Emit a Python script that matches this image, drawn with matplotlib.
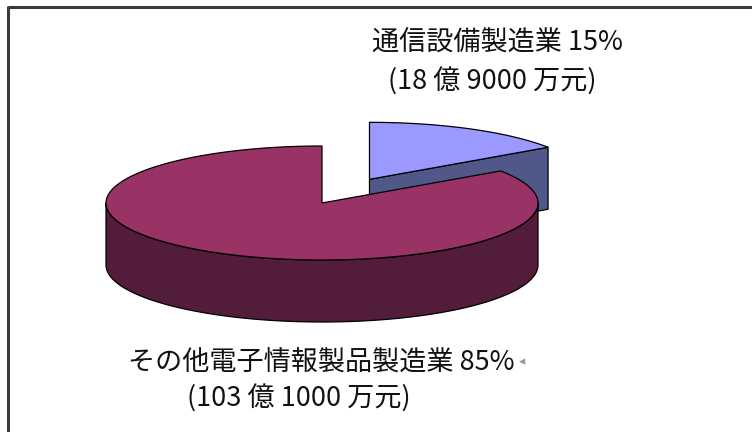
import matplotlib.pyplot as plt
import numpy as np
from matplotlib.patches import Polygon

plt.rcParams['font.family'] = ['Noto Sans CJK JP', 'DejaVu Sans']

# sales by segment, in 万元
names = ['通信設備製造業', 'その他電子情報製品製造業']
amount_man = [189000, 1031000]
explode = [0.47, 0.0]
top_colors = ['#9999ff', '#993366']
side_colors = ['#4f5888', '#521c3a']

# label placement (left x, first-line y, second-line x, second-line y)
label_pos = [(372, 42, 388, 82), (128, 362, 187, 399)]

# pie geometry in pixel coordinates
cx, cy = 322, 203
rx, ry = 216, 57
depth = 62


def pt(t, ox=0.0, oy=0.0, dz=0.0):
    r = np.radians(t)
    return np.column_stack([cx + ox + rx * np.cos(r), cy + oy - ry * np.sin(r) + dz])


fig = plt.figure(figsize=(7.52, 4.32), dpi=100)
ax = fig.add_axes([0, 0, 1, 1])
ax.set_xlim(0, 752)
ax.set_ylim(432, 0)
ax.axis('off')

total = sum(amount_man)
shares = np.array(amount_man) / total
cum = np.concatenate([[0], np.cumsum(shares)])

slices = []
for i in range(len(names)):
    # clockwise from 12 o'clock
    a1 = 90 - cum[i] * 360
    a0 = 90 - cum[i + 1] * 360
    mid = (a0 + a1) / 2
    ox = explode[i] * rx * np.cos(np.radians(mid))
    oy = -explode[i] * ry * np.sin(np.radians(mid))
    slices.append((np.sin(np.radians(mid)), i, a0, a1, ox, oy))

# far slices first
for _, i, a0, a1, ox, oy in sorted(slices, reverse=True):
    apex = np.array([[cx + ox, cy + oy]])
    ec = dict(edgecolor='black', linewidth=0.9, joinstyle='miter')

    # radial walls facing the viewer
    for a, nrm in ((a0, a0 - 90), (a1, a1 + 90)):
        if np.sin(np.radians(nrm)) < -1e-6:
            e = pt([a], ox, oy)
            wall = np.vstack([apex, e, e + [0, depth], apex + [0, depth]])
            ax.add_patch(Polygon(wall, closed=True, facecolor=side_colors[i], **ec))

    # outer wall: front half of the rim
    segs = []
    for k in (-1, 0, 1):
        s, t = max(a0, 180 + 360 * k), min(a1, 360 + 360 * k)
        if t > s:
            segs.append((s, t))
    for s, t in segs:
        arc = np.linspace(s, t, 120)
        top = pt(arc, ox, oy)
        bot = pt(arc[::-1], ox, oy, depth)
        ax.add_patch(Polygon(np.vstack([top, bot]), closed=True,
                             facecolor=side_colors[i], **ec))

    # top face
    arc = np.linspace(a0, a1, 240)
    face = np.vstack([apex, pt(arc, ox, oy)])
    ax.add_patch(Polygon(face, closed=True, facecolor=top_colors[i], **ec))

# labels
for i, name in enumerate(names):
    pct = round(shares[i] * 100)
    oku, man = divmod(amount_man[i], 10000)
    x1, y1, x2, y2 = label_pos[i]
    ax.text(x1, y1, f'{name} {pct}%', fontsize=19.5, ha='left', va='center', color='#111111')
    ax.text(x2, y2, f'({oku} 億 {man} 万元)', fontsize=19.5, ha='left', va='center', color='#111111')

ax.text(519, 362, '◂', fontsize=9, ha='left', va='center', color='#9a9a9a', family='DejaVu Sans')

# chart frame (top and left edges)
ax.plot([8, 752], [7, 7], color='#3a3a3a', linewidth=2.2, solid_capstyle='butt')
ax.plot([8, 8], [6, 432], color='#3a3a3a', linewidth=2.2, solid_capstyle='butt')

fig.savefig('out.png', dpi=100)
